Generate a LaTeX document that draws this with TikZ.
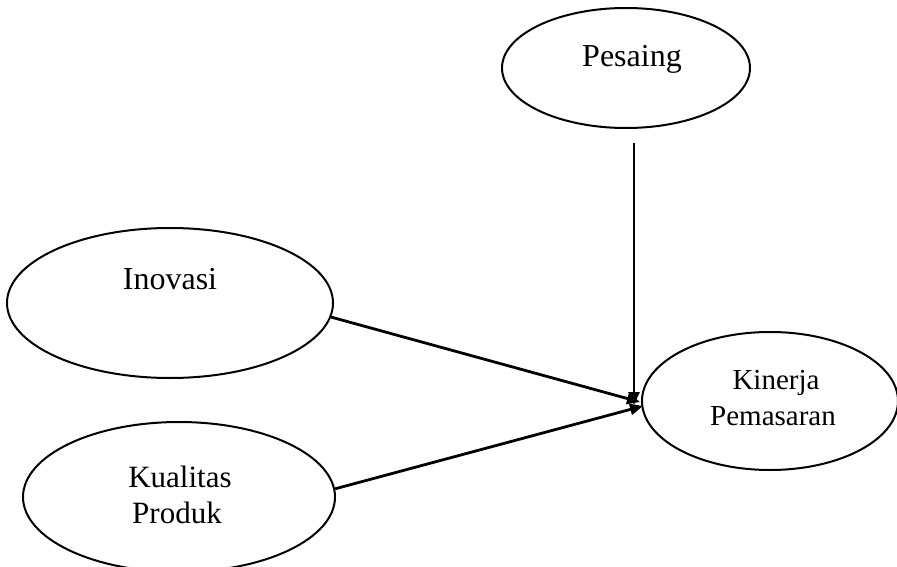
\documentclass[tikz,border=0pt]{standalone}
\usepackage{fontspec}
\setmainfont{Liberation Serif}
\usetikzlibrary{shapes.geometric,arrows.meta}
\tikzset{
  var/.style={draw, ellipse, line width=2pt, inner sep=0pt},
  lbl/.style={anchor=base, inner sep=0pt, font=\fontsize{32}{37}\selectfont},
  lblmid/.style={anchor=base, inner sep=0pt, font=\fontsize{31}{36}\selectfont},
  lblsmall/.style={anchor=base, inner sep=0pt, font=\fontsize{29}{34}\selectfont},
  path/.style={line width=2.8pt, -{Triangle[length=13pt,width=11pt]}}
}
\begin{document}
\begin{tikzpicture}[x=1pt,y=-1pt]
\useasboundingbox[fill=white] (0,0) rectangle (897,567);

% latent variables
\node[var, minimum width=248pt, minimum height=120pt] (pes) at (626,68) {};
\node[var, minimum width=326pt, minimum height=150pt] (ino) at (170,303) {};
\node[var, minimum width=312pt, minimum height=150pt] (kua) at (179,497) {};
\node[var, minimum width=256pt, minimum height=138pt] (kin) at (770,401) {};

% labels
\node[lbl] (tpes) at (632,67) {Pesaing};
\node[lbl] (tino) at (170,289) {Inovasi};
\node[lblmid] (tkua1) at (180,487) {Kualitas};
\node[lblmid] (tkua2) at (177,523) {Produk};
\node[lblsmall] (tkin1) at (776,389) {Kinerja};
\node[lblsmall] (tkin2) at (773,425) {Pemasaran};

% arrow end points
\coordinate (pstart) at (634,143);
\coordinate (tipA) at (634,405);
\coordinate (tipB) at (640,402);
\coordinate (tipC) at (643,406);

% paths
\draw[path] (pstart) -- (tipA);
\draw[path] (ino.-5) -- (tipB);
\draw[path] (kua.3) -- (tipC);
\end{tikzpicture}
\end{document}
